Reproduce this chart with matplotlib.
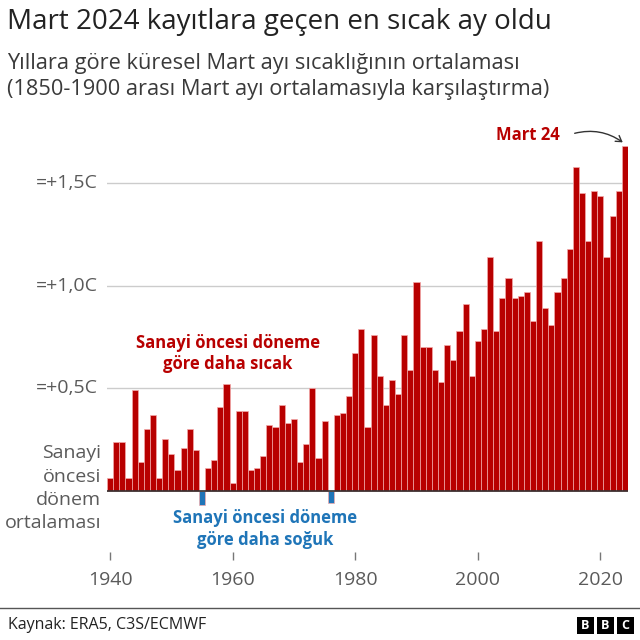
import matplotlib
matplotlib.use("Agg")
import matplotlib.pyplot as plt
from matplotlib.patches import FancyArrowPatch, Rectangle
import numpy as np

years = list(range(1940, 2025))
anomaly = [
    0.06, 0.24, 0.24, 0.06, 0.49, 0.14, 0.30, 0.37, 0.06, 0.25,   # 1940-49
    0.18, 0.10, 0.21, 0.30, 0.20, -0.07, 0.11, 0.15, 0.41, 0.52,  # 1950-59
    0.04, 0.39, 0.39, 0.10, 0.11, 0.17, 0.32, 0.31, 0.42, 0.33,   # 1960-69
    0.35, 0.14, 0.23, 0.50, 0.16, 0.34, -0.06, 0.37, 0.38, 0.46,  # 1970-79
    0.67, 0.79, 0.31, 0.76, 0.56, 0.42, 0.54, 0.47, 0.76, 0.59,   # 1980-89
    1.02, 0.70, 0.70, 0.59, 0.53, 0.71, 0.64, 0.78, 0.91, 0.56,   # 1990-99
    0.73, 0.79, 1.14, 0.78, 0.94, 1.04, 0.94, 0.95, 0.97, 0.83,   # 2000-09
    1.22, 0.89, 0.81, 0.97, 1.04, 1.18, 1.58, 1.45, 1.22, 1.46,   # 2010-19
    1.44, 1.14, 1.34, 1.46, 1.68,                                 # 2020-24
]
ytick_vals = [0.5, 1.0, 1.5]
ytick_labels = ["=+0,5C", "=+1,0C", "=+1,5C"]
xtick_vals = [1940, 1960, 1980, 2000, 2020]

RED = "#b80000"
BLUE = "#1f75b8"
GREY = "#5a5a5a"
FONT = "Open Sans"

fig = plt.figure(figsize=(6.4, 6.4), dpi=100)
W, H = 640, 640

def fx(px):
    return px / W

def fy(py):
    return 1 - py / H

# axes: x from pixel 107 to 628, y from pixel 130 to 552; baseline at 490.7, 205 px/unit
ax_left, ax_right = 107, 628
ax_top, ax_bot = 130, 552
base = 490.7
ppu = 205.0
ax = fig.add_axes([fx(ax_left), fy(ax_bot), (ax_right - ax_left) / W, (ax_bot - ax_top) / H])
ax.set_xlim(1939.5, 2024.5)
ax.set_ylim(-(ax_bot - base) / ppu, (base - ax_top) / ppu)

colors = [RED if v >= 0 else BLUE for v in anomaly]
ax.bar(years, anomaly, width=1.0, color=colors, edgecolor="#f2a9a9", linewidth=0.5, zorder=3)

for v in ytick_vals:
    ax.axhline(v, color="#cccccc", linewidth=1, zorder=1)
ax.axhline(0, color="#333333", linewidth=1.2, zorder=4)

for s in ax.spines.values():
    s.set_visible(False)
ax.set_yticks([])
ax.set_xticks(xtick_vals)
ax.set_xticklabels([str(x) for x in xtick_vals], fontsize=14, color=GREY, family=FONT)
ax.tick_params(axis="x", length=6, width=1, color="#777777", pad=8)

for v, lab in zip(ytick_vals, ytick_labels):
    fig.text(fx(98), fy(base - v * ppu), lab, ha="right", va="center",
             fontsize=14, color=GREY, family=FONT)

# left baseline label
for i, line in enumerate(["Sanayi", "öncesi", "dönem", "ortalaması"]):
    fig.text(fx(101), fy(453 + i * 23.5), line, ha="right", va="center",
             fontsize=14, color=GREY, family=FONT)

# annotations
fig.text(fx(228), fy(343), "Sanayi öncesi döneme", ha="center", va="center",
         fontsize=12, color=RED, family=FONT, fontweight="bold")
fig.text(fx(228), fy(364), "göre daha sıcak", ha="center", va="center",
         fontsize=12, color=RED, family=FONT, fontweight="bold")
fig.text(fx(265), fy(518), "Sanayi öncesi döneme", ha="center", va="center",
         fontsize=12, color=BLUE, family=FONT, fontweight="bold")
fig.text(fx(265), fy(540), "göre daha soğuk", ha="center", va="center",
         fontsize=12, color=BLUE, family=FONT, fontweight="bold")

fig.text(fx(528), fy(135), "Mart 24", ha="center", va="center",
         fontsize=12, color=RED, family=FONT, fontweight="bold")
arrow = FancyArrowPatch((fx(572), fy(134)), (fx(625), fy(144)),
                        transform=fig.transFigure, connectionstyle="arc3,rad=-0.25",
                        arrowstyle="->,head_length=4,head_width=2.5", color="#333333", lw=1)
fig.patches.append(arrow)

# titles
fig.text(fx(7), fy(22), "Mart 2024 kayıtlara geçen en sıcak ay oldu", ha="left", va="center",
         fontsize=20, color="#222222", family=FONT)
fig.text(fx(7), fy(63), "Yıllara göre küresel Mart ayı sıcaklığının ortalaması", ha="left", va="center",
         fontsize=15.7, color="#3a3a3a", family=FONT)
fig.text(fx(7), fy(90), "(1850-1900 arası Mart ayı ortalamasıyla karşılaştırma)", ha="left", va="center",
         fontsize=15.7, color="#3a3a3a", family=FONT)

# footer
fig.add_artist(plt.Line2D([0, 1], [fy(608), fy(608)], transform=fig.transFigure,
                          color="#555555", linewidth=1))
fig.text(fx(8), fy(625), "Kaynak: ERA5, C3S/ECMWF", ha="left", va="center",
         fontsize=11.5, color="#222222", family=FONT)
for i, letter in enumerate("BBC"):
    x0 = 577 + i * 20
    fig.patches.append(Rectangle((fx(x0), fy(634)), 17 / W, 17 / H, transform=fig.transFigure,
                                 facecolor="black", edgecolor="none"))
    fig.text(fx(x0 + 8.5), fy(625.5), letter, ha="center", va="center", fontsize=9,
             color="white", fontweight="bold", family=FONT)

fig.savefig("out.png", dpi=100)
